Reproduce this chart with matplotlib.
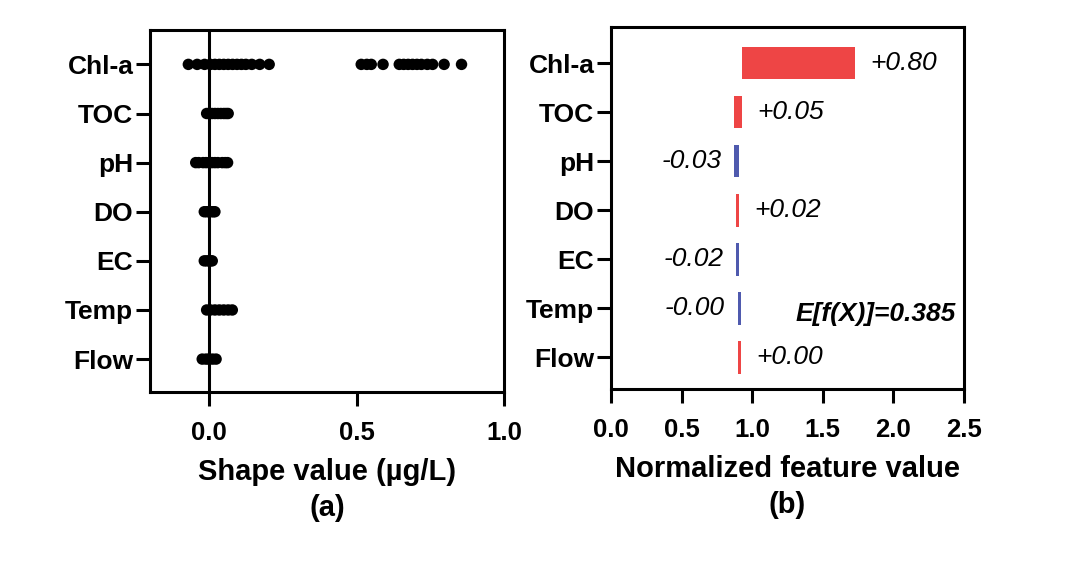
import matplotlib
matplotlib.use("Agg")
import matplotlib.pyplot as plt

plt.rcParams['font.family'] = ['Liberation Sans', 'DejaVu Sans']

# ---------------- data ----------------
features = ['Chl-a', 'TOC', 'pH', 'DO', 'EC', 'Temp', 'Flow']

shap_chla = [-0.07, -0.04, -0.015, 0.005, 0.02, 0.035, 0.05, 0.065, 0.08, 0.095,
             0.11, 0.125, 0.145, 0.172, 0.204,
             0.516, 0.535, 0.55, 0.59, 0.645, 0.66, 0.675, 0.69, 0.705, 0.72,
             0.74, 0.758, 0.797, 0.856]
shap_toc = [-0.008, 0.0, 0.01, 0.02, 0.03, 0.04, 0.05, 0.058, 0.065]
shap_ph = [-0.045, -0.035, -0.02, -0.01, 0.0, 0.01, 0.02, 0.03, 0.045, 0.055, 0.063]
shap_do = [-0.016, -0.008, 0.0, 0.008, 0.015, 0.02]
shap_ec = [-0.016, -0.008, 0.0, 0.006, 0.011]
shap_temp = [-0.008, 0.005, 0.02, 0.035, 0.05, 0.065, 0.079]
shap_flow = [-0.023, -0.01, 0.0, 0.012, 0.024]
shap_values = [shap_chla, shap_toc, shap_ph, shap_do, shap_ec, shap_temp, shap_flow]

contrib_labels = ['+0.80', '+0.05', '-0.03', '+0.02', '-0.02', '-0.00', '+0.00']
bar_start = [0.925, 0.873, 0.910, 0.885, 0.910, 0.922, 0.896]
bar_end = [1.730, 0.927, 0.873, 0.910, 0.887, 0.896, 0.922]
expected_text = 'E[f(X)]=0.385'

xticks_a = [0.0, 0.5, 1.0]
xticks_b = [0.0, 0.5, 1.0, 1.5, 2.0, 2.5]

RED = '#EE4545'
BLUE = '#4F5AAE'

# ---------------- figure ----------------
fig = plt.figure(figsize=(10.86, 5.67), dpi=100)
ax1 = fig.add_axes([150 / 1086, 1 - 392 / 567, 354 / 1086, 362 / 567])
ax2 = fig.add_axes([611 / 1086, 1 - 389 / 567, 353 / 1086, 362 / 567])

LW = 2.2
TICK_FS = 18.5
YTICK_FS = 19
LABEL_FS = 21
ANN_FS = 19

for ax in (ax1, ax2):
    for sp in ax.spines.values():
        sp.set_linewidth(LW)
    ax.tick_params(axis='both', width=LW, length=10)
    ax.tick_params(axis='x', pad=11, labelsize=TICK_FS)
    ax.tick_params(axis='y', pad=2, labelsize=YTICK_FS)
    ax.set_yticks(range(len(features)))
    ax.set_yticklabels(features, fontweight='bold')

# ---- panel (a) ----
for i, vals in enumerate(shap_values):
    ax1.scatter(vals, [i] * len(vals), s=68, color='black', edgecolors='none', zorder=3)
ax1.axvline(0, color='black', lw=LW, zorder=2)
ax1.set_xlim(-0.2, 1.0)
ax1.set_ylim(len(features) - 1 + 0.67, -0.70)
ax1.set_xticks(xticks_a)
ax1.set_xticklabels([f'{t:.1f}' for t in xticks_a], fontweight='bold')
ax1.set_xlabel('Shape value (µg/L)\n(a)', fontsize=LABEL_FS, fontweight='bold',
               linespacing=1.4, labelpad=9)

# ---- panel (b) ----
for i, (s, e, lab) in enumerate(zip(bar_start, bar_end, contrib_labels)):
    neg = lab.startswith('-')
    col = BLUE if neg else RED
    ax2.barh(i, abs(e - s), left=min(s, e), height=0.67, color=col, edgecolor='none')
    if neg:
        ax2.annotate(lab, xy=(min(s, e), i), xytext=(-9, 0), textcoords='offset points',
                     ha='right', va='center', fontsize=ANN_FS, fontstyle='italic')
    else:
        ax2.annotate(lab, xy=(max(s, e), i), xytext=(11, 0), textcoords='offset points',
                     ha='left', va='center', fontsize=ANN_FS, fontstyle='italic')
ax2.text(2.445, 5.13, expected_text, ha='right', va='center', fontsize=ANN_FS,
         fontstyle='italic', fontweight='bold')
ax2.set_xlim(0, 2.5)
ax2.set_ylim(len(features) - 1 + 0.65, -0.735)
ax2.set_xticks(xticks_b)
ax2.set_xticklabels([f'{t:.1f}' for t in xticks_b], fontweight='bold')
ax2.set_xlabel('Normalized feature value\n(b)', fontsize=LABEL_FS, fontweight='bold',
               linespacing=1.4, labelpad=9)

fig.savefig('out.png', dpi=100)
